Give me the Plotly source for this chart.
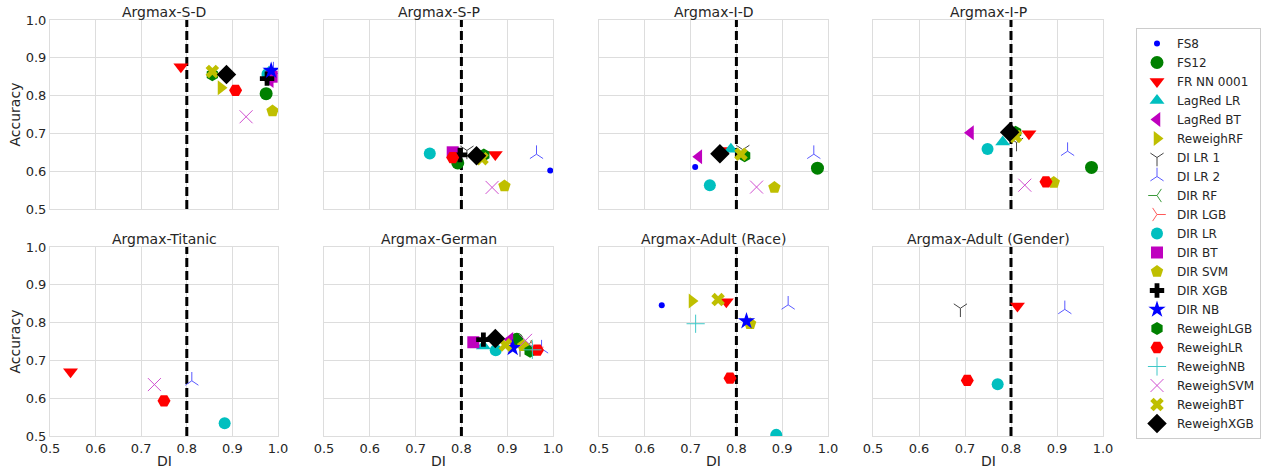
import plotly.graph_objects as go

# ---------------- data ----------------
METHODS = ["FS8", "FS12", "FR NN 0001", "LagRed LR", "LagRed BT", "ReweighRF",
           "DI LR 1", "DI LR 2", "DIR RF", "DIR LGB", "DIR LR", "DIR BT", "DIR SVM",
           "DIR XGB", "DIR NB", "ReweighLGB", "ReweighLR", "ReweighNB", "ReweighSVM",
           "ReweighBT", "ReweighXGB"]

PANEL_TITLES = ["Argmax-S-D", "Argmax-S-P", "Argmax-I-D", "Argmax-I-P",
                "Argmax-Titanic", "Argmax-German", "Argmax-Adult (Race)", "Argmax-Adult (Gender)"]

SD_M = ["FR NN 0001", "ReweighLGB", "ReweighBT", "ReweighRF", "ReweighLR", "ReweighSVM", "FS12",
        "DIR SVM", "LagRed BT", "DIR LR", "LagRed LR", "DI LR 2", "DIR NB", "DIR XGB", "DIR BT", "ReweighXGB"]
SD_DI = [0.787, 0.856, 0.856, 0.875, 0.907, 0.930, 0.974, 0.988, 0.983, 0.977, 0.980, 0.990, 0.985, 0.976, 0.986, 0.887]
SD_ACC = [0.876, 0.855, 0.864, 0.821, 0.814, 0.744, 0.805, 0.759, 0.840, 0.857, 0.862, 0.866, 0.866, 0.845, 0.850, 0.856]

SP_M = ["DIR LR", "DIR BT", "ReweighLR", "FS12", "DIR XGB", "DI LR 1", "ReweighLGB", "ReweighBT",
        "FR NN 0001", "DI LR 2", "FS8", "ReweighSVM", "DIR SVM", "ReweighXGB"]
SP_DI = [0.731, 0.781, 0.781, 0.792, 0.797, 0.812, 0.849, 0.845, 0.874, 0.964, 0.994, 0.867, 0.894, 0.833]
SP_ACC = [0.647, 0.650, 0.636, 0.622, 0.643, 0.655, 0.643, 0.633, 0.644, 0.645, 0.602, 0.557, 0.561, 0.641]

ID_M = ["LagRed BT", "FS8", "FR NN 0001", "LagRed LR", "DI LR 1", "ReweighBT", "ReweighLGB", "DIR LR",
        "ReweighSVM", "DIR SVM", "DI LR 2", "FS12", "ReweighXGB"]
ID_DI = [0.718, 0.710, 0.776, 0.788, 0.814, 0.810, 0.818, 0.742, 0.844, 0.883, 0.969, 0.977, 0.764]
ID_ACC = [0.638, 0.611, 0.655, 0.658, 0.657, 0.645, 0.641, 0.563, 0.558, 0.557, 0.645, 0.608, 0.646]

IP_M = ["LagRed BT", "ReweighLGB", "ReweighBT", "DI LR 1", "FR NN 0001", "LagRed LR", "DIR LR", "DI LR 2",
        "FS8", "FS12", "ReweighSVM", "ReweighLR", "DIR SVM", "ReweighXGB"]
IP_DI = [0.712, 0.810, 0.810, 0.812, 0.839, 0.782, 0.749, 0.923, 0.977, 0.975, 0.830, 0.876, 0.893, 0.797]
IP_ACC = [0.702, 0.703, 0.692, 0.676, 0.699, 0.677, 0.659, 0.653, 0.607, 0.610, 0.563, 0.572, 0.570, 0.703]

TI_M = ["FR NN 0001", "ReweighSVM", "ReweighLR", "DI LR 2", "DIR LR"]
TI_DI = [0.545, 0.729, 0.750, 0.811, 0.883]
TI_ACC = [0.670, 0.636, 0.593, 0.646, 0.534]

GE_M = ["DIR BT", "DIR XGB", "LagRed LR", "DIR LR", "ReweighBT", "LagRed BT", "FS12", "DIR NB", "DI LR 1",
        "ReweighSVM", "DIR SVM", "DIR RF", "ReweighLGB", "ReweighNB", "DIR LGB", "ReweighLR", "DI LR 2", "ReweighXGB"]
GE_DI = [0.826, 0.848, 0.848, 0.875, 0.896, 0.906, 0.921, 0.912, 0.928,
         0.940, 0.935, 0.945, 0.950, 0.955, 0.960, 0.966, 0.975, 0.874]
GE_ACC = [0.748, 0.755, 0.738, 0.727, 0.741, 0.755, 0.756, 0.733, 0.733,
          0.753, 0.739, 0.737, 0.724, 0.728, 0.735, 0.727, 0.731, 0.758]

AR_M = ["FS8", "ReweighRF", "ReweighBT", "FR NN 0001", "ReweighNB", "DIR NB", "DIR SVM", "DI LR 2",
        "ReweighLR", "DIR LR"]
AR_DI = [0.637, 0.703, 0.760, 0.778, 0.711, 0.822, 0.830, 0.913, 0.786, 0.887]
AR_ACC = [0.846, 0.857, 0.861, 0.855, 0.797, 0.804, 0.797, 0.847, 0.653, 0.503]

AG_M = ["DI LR 1", "FR NN 0001", "DI LR 2", "ReweighLR", "DIR LR"]
AG_DI = [0.690, 0.814, 0.917, 0.705, 0.771]
AG_ACC = [0.838, 0.844, 0.835, 0.647, 0.637]

DI_THRESHOLD = 0.8
AXIS_RANGE = [0.5, 1.0]
TICKS = [0.5, 0.6, 0.7, 0.8, 0.9, 1.0]

PANELS = [(SD_M, SD_DI, SD_ACC), (SP_M, SP_DI, SP_ACC), (ID_M, ID_DI, ID_ACC), (IP_M, IP_DI, IP_ACC),
          (TI_M, TI_DI, TI_ACC), (GE_M, GE_DI, GE_ACC), (AR_M, AR_DI, AR_ACC), (AG_M, AG_DI, AG_ACC)]

# ---------------- styles ----------------
B, G, R, C, M, Y, K = "#0000ff", "#008000", "#ff0000", "#00bfbf", "#bf00bf", "#bfbf00", "#000000"
STYLE = {
    "FS8":        dict(symbol="circle", color=B, size=6),
    "FS12":       dict(symbol="circle", color=G, size=13),
    "FR NN 0001": dict(symbol="triangle-down", color=R, size=13),
    "LagRed LR":  dict(symbol="triangle-up", color=C, size=13),
    "LagRed BT":  dict(symbol="triangle-left", color=M, size=13),
    "ReweighRF":  dict(symbol="triangle-right", color=Y, size=13),
    "DI LR 1":    dict(symbol="y-down-open", color="#444444", size=11, line=1),
    "DI LR 2":    dict(symbol="y-up-open", color="#5a5aff", size=11, line=1),
    "DIR RF":     dict(symbol="y-left-open", color="#3a9a3a", size=11, line=1),
    "DIR LGB":    dict(symbol="y-right-open", color="#ff5a5a", size=11, line=1),
    "DIR LR":     dict(symbol="circle", color=C, size=12),
    "DIR BT":     dict(symbol="square", color=M, size=12),
    "DIR SVM":    dict(symbol="pentagon", color=Y, size=13),
    "DIR XGB":    dict(symbol="cross", color=K, size=12),
    "DIR NB":     dict(symbol="star", color=B, size=13),
    "ReweighLGB": dict(symbol="hexagon", color=G, size=13),
    "ReweighLR":  dict(symbol="hexagon2", color=R, size=13),
    "ReweighNB":  dict(symbol="cross-thin-open", color="#40c8c8", size=13, line=1),
    "ReweighSVM": dict(symbol="x-thin-open", color="#d050d0", size=13, line=1),
    "ReweighBT":  dict(symbol="x", color=Y, size=12),
    "ReweighXGB": dict(symbol="diamond", color=K, size=15),
}

W, H = 1265, 471
COL_PX = [(50, 278), (324, 553), (599, 828), (873, 1103)]
ROW_PX = [(20, 209), (247, 436)]
TXT = "#262626"
GRID = "#dddddd"
FONT = "DejaVu Sans"


def px_x(v):
    return v / W


def px_y(v):
    return 1 - v / H


fig = go.Figure()
layout = dict(
    width=W, height=H, margin=dict(l=0, r=0, t=0, b=0, autoexpand=False),
    paper_bgcolor="white", plot_bgcolor="white",
    font=dict(family=FONT, color=TXT, size=13),
    legend=dict(x=px_x(1136), y=px_y(28), xanchor="left", yanchor="top",
                bordercolor="#cccccc", borderwidth=1, font=dict(size=12, color=TXT),
                traceorder="normal", bgcolor="white"),
    annotations=[], showlegend=True,
)

shown = set()
for p, (ms, dis, accs) in enumerate(PANELS):
    r, c = divmod(p, 4)
    idx = "" if p == 0 else str(p + 1)
    xa, ya = "x" + idx, "y" + idx
    x0, x1 = COL_PX[c]
    y0, y1 = ROW_PX[r]
    common = dict(range=AXIS_RANGE, tickvals=TICKS, tickformat=".1f", showgrid=True, gridcolor=GRID,
                  gridwidth=1, zeroline=False, showline=True, linecolor=GRID, linewidth=1, mirror=True,
                  ticks="", tickfont=dict(size=13, color=TXT), fixedrange=True, automargin=False)
    layout["xaxis" + idx] = dict(common, domain=[px_x(x0), px_x(x1)], anchor=ya,
                                 showticklabels=(r == 1))
    layout["yaxis" + idx] = dict(common, domain=[px_y(y1), px_y(y0)], anchor=xa,
                                 showticklabels=(c == 0))
    # panel title
    layout["annotations"].append(dict(text=PANEL_TITLES[p], x=px_x((x0 + x1) / 2), y=px_y(y0 - 8),
                                      xref="paper", yref="paper", showarrow=False, xanchor="center",
                                      yanchor="middle", font=dict(size=14, color=TXT)))
    if c == 0:
        layout["annotations"].append(dict(text="Accuracy", x=px_x(14), y=px_y((y0 + y1) / 2), xref="paper",
                                          yref="paper", showarrow=False, textangle=-90, xanchor="center",
                                          yanchor="middle", font=dict(size=14, color=TXT)))
    if r == 1:
        layout["annotations"].append(dict(text="DI", x=px_x((x0 + x1) / 2), y=px_y(461), xref="paper",
                                          yref="paper", showarrow=False, xanchor="center",
                                          yanchor="middle", font=dict(size=14, color=TXT)))
    # threshold line
    fig.add_trace(go.Scatter(x=[DI_THRESHOLD, DI_THRESHOLD], y=AXIS_RANGE, mode="lines",
                             line=dict(color="black", width=3, dash="9px,4px"),
                             xaxis=xa, yaxis=ya, showlegend=False, hoverinfo="skip"))
    for rank, name in enumerate(METHODS):
        xs = [d for m, d in zip(ms, dis) if m == name]
        ys = [a for m, a in zip(ms, accs) if m == name]
        if not xs:
            continue
        st = STYLE[name]
        lw = st.get("line", 0)
        marker = dict(symbol=st["symbol"], size=st["size"], color=st["color"],
                      line=dict(width=lw, color=st["color"]))
        first = name not in shown
        shown.add(name)
        fig.add_trace(go.Scatter(x=xs, y=ys, mode="markers", name=name, marker=marker,
                                 xaxis=xa, yaxis=ya, showlegend=first, legendrank=rank + 1,
                                 cliponaxis=True))

fig.update_layout(**layout)
# the page body has a default 8px margin; remove it so the figure fills the window
fig.write_html("out.html", config={"displayModeBar": False},
               post_script="document.body.style.margin='0';")
